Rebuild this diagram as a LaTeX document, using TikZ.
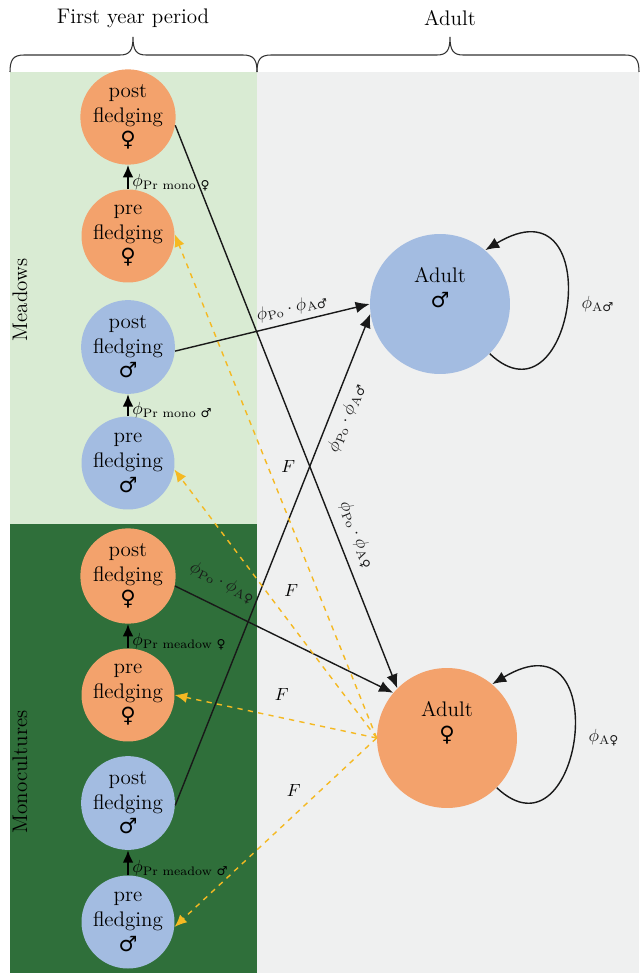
\documentclass[tikz,border=0pt]{standalone}
\usepackage{amsmath}
\usepackage{fontspec}
\usetikzlibrary{arrows.meta}
\newfontfamily\symfont{DejaVu Sans}
\newcommand{\fem}{{\symfont ♀}}
\newcommand{\mal}{{\symfont ♂}}
\definecolor{orangefill}{HTML}{F3A26C}
\definecolor{bluefill}{HTML}{A3BCE1}
\definecolor{meadowgreen}{HTML}{D9EBD3}
\definecolor{monogreen}{HTML}{2F6F3A}
\definecolor{adultgray}{HTML}{EFF0F0}
\definecolor{fyellow}{HTML}{F5B922}

\begin{document}
\begin{tikzpicture}[x=0.02cm,y=-0.02cm,
  young/.style={circle,minimum size=1.86cm,inner sep=0pt,align=center,font=\large},
  femyoung/.style={young,fill=orangefill},
  malyoung/.style={young,fill=bluefill},
  adultnode/.style={circle,minimum size=2.8cm,inner sep=0pt},
  growarrow/.style={-{Latex[length=7pt,width=6pt]},line width=1.1pt},
  surv/.style={-{Latex[length=8pt,width=6.5pt]},thick,black!90},
  back/.style={-{Latex[length=7pt,width=6pt]},fyellow,dashed,thick},
  period/.style={semithick,black!80},
  plabel/.style={inner sep=2pt}]
\useasboundingbox (0,0) rectangle (639,973);
% habitats
\fill [meadowgreen] (10,72) rectangle (257,524);
\fill [monogreen] (10,524) rectangle (257,973);
\fill [adultgray] (257,72) rectangle (639,973);
\node [rotate=90,font=\large] (meadows) at (20,300) {Meadows};
\node [rotate=90,font=\large] (monocultures) at (20,772) {Monocultures};
% periods
\draw [period] (10,72) .. controls (10,60) and (13,55) .. (24,55) -- (120,55)
  .. controls (130,55) and (133,50) .. (133,37) .. controls (133,50) and (136,55) .. (146,55)
  -- (243,55) .. controls (254,55) and (257,60) .. (257,72);
\draw [period] (257,72) .. controls (257,60) and (260,55) .. (271,55) -- (437,55)
  .. controls (447,55) and (450,50) .. (450,37) .. controls (450,50) and (453,55) .. (463,55)
  -- (625,55) .. controls (636,55) and (639,60) .. (639,72);
\node [font=\large] (firstyear) at (133,18) {First year period};
\node [font=\large] (adultperiod) at (450,18) {Adult};
% first year
\node [femyoung] (postFmeadow) at (128,117) {post\\fledging\\\fem};
\node [femyoung] (preFmeadow) at (128,236) {pre\\fledging\\\fem};
\node [malyoung] (postMmeadow) at (128,347) {post\\fledging\\\mal};
\node [malyoung] (preMmeadow) at (128,463) {pre\\fledging\\\mal};
\node [femyoung] (postFmono) at (128,576) {post\\fledging\\\fem};
\node [femyoung] (preFmono) at (128,695) {pre\\fledging\\\fem};
\node [malyoung] (postMmono) at (128,803) {post\\fledging\\\mal};
\node [malyoung] (preMmono) at (128,922) {pre\\fledging\\\mal};
% adults
\node [adultnode,fill=bluefill,label={[anchor=north,label distance=-0.55cm,align=center,font=\large]north:Adult\\\mal}] (adultM) at (440,304) {};
\node [adultnode,fill=orangefill,label={[anchor=north,label distance=-0.55cm,align=center,font=\large]north:Adult\\\fem}] (adultF) at (447,738) {};
% growing up
\draw [growarrow] (preFmeadow) -- node[right,plabel,yshift=-3pt]{$\phi_{\text{Pr mono \fem}}$} (postFmeadow);
\draw [growarrow] (preMmeadow) -- node[right,plabel,yshift=-3pt]{$\phi_{\text{Pr mono \mal}}$} (postMmeadow);
\draw [growarrow] (preFmono) -- node[right,plabel,yshift=-3pt]{$\phi_{\text{Pr meadow \fem}}$} (postFmono);
\draw [growarrow] (preMmono) -- node[right,plabel,yshift=-3pt]{$\phi_{\text{Pr meadow \mal}}$} (postMmono);
% becoming adult
\draw [surv] (postFmeadow.-10) -- node[pos=.74,above=2pt,sloped]{$\phi_{\text{Po}}\cdot\phi_{\text{A\fem}}$} (adultF.135);
\draw [surv] (postMmeadow.-5) -- node[pos=.62,above,sloped]{$\phi_{\text{Po}}\cdot\phi_{\text{A\mal}}$} (adultM.west);
\draw [surv] (postFmono.-12) -- node[pos=.17,above=5pt,sloped]{$\phi_{\text{Po}}\cdot\phi_{\text{A\fem}}$} (adultF.140);
\draw [surv] (postMmono.-3) -- node[pos=.8,below=1pt,sloped]{$\phi_{\text{Po}}\cdot\phi_{\text{A\mal}}$} (adultM.188);
% adult survival
\draw [surv] (adultM.-45) .. controls +(85,80) and +(125,-75) .. node[pos=.5,right=5pt]{$\phi_{\text{A\mal}}$} (adultM.50);
\draw [surv] (adultF.-45) .. controls +(85,80) and +(125,-75) .. node[pos=.5,right=5pt]{$\phi_{\text{A\fem}}$} (adultF.50);
% fecundity
\draw [back] (adultF.west) -- node[pos=.54,right=4pt,black]{$F$} (preFmeadow.2);
\draw [back] (adultF.west) -- node[pos=.55,right=7pt,black]{$F$} (preMmeadow.-8);
\draw [back] (adultF.west) -- node[pos=.47,above=6pt,black]{$F$} (preFmono.east);
\draw [back] (adultF.west) -- node[pos=.41,above=7pt,black]{$F$} (preMmono.-6);
\end{tikzpicture}
\end{document}
